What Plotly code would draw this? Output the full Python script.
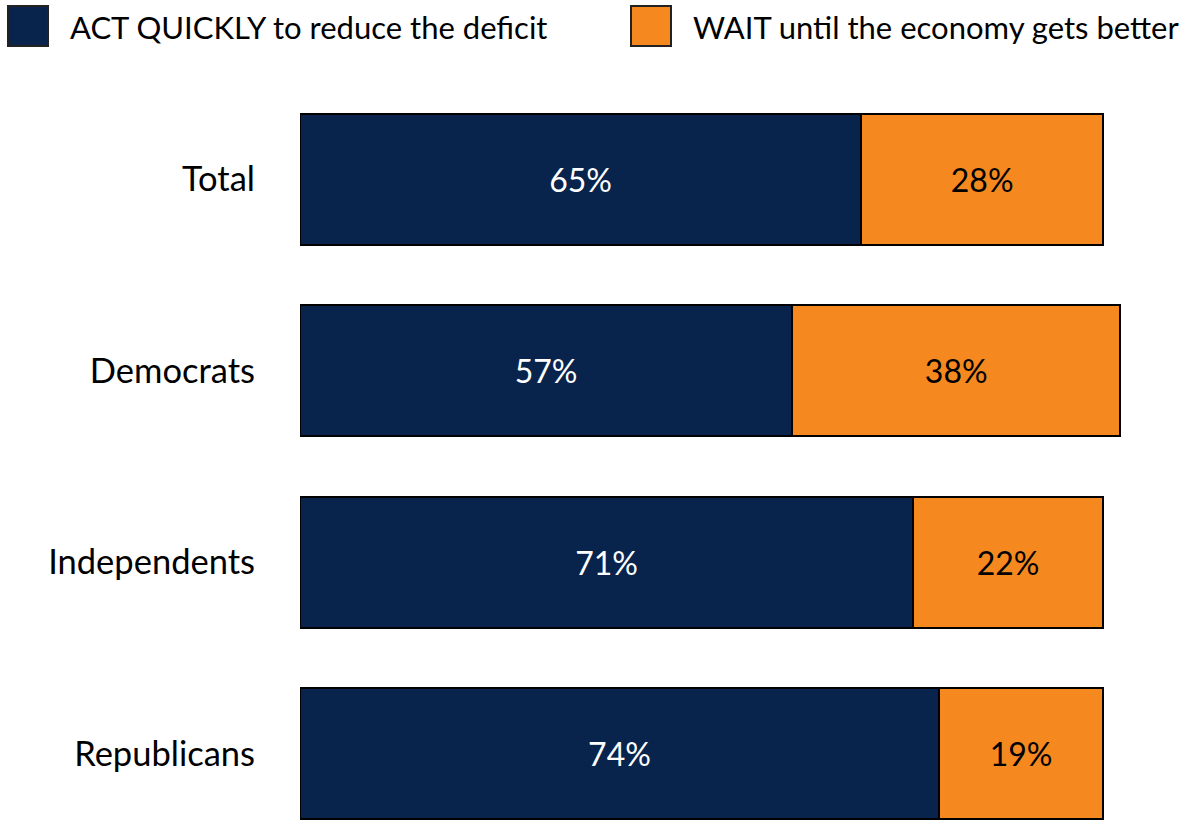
import plotly.graph_objects as go

# Survey groups and response shares (%)
groups = ["Total", "Democrats", "Independents", "Republicans"]
act_quickly = [65, 57, 71, 74]
wait_better = [28, 38, 22, 19]

series_names = ["ACT QUICKLY to reduce the deficit", "WAIT until the economy gets better"]
navy = "#08234C"
orange = "#F5891F"
font_family = "Lato, 'Open Sans', sans-serif"

fig = go.Figure()
fig.add_trace(go.Bar(
    y=groups, x=act_quickly, orientation="h", name=series_names[0],
    marker=dict(color=navy, line=dict(color="black", width=2)),
    text=[f"{v}%" for v in act_quickly], textposition="inside",
    insidetextanchor="middle", textangle=0, constraintext="none",
    textfont=dict(color="white", size=32, family=font_family),
    showlegend=False,
))
fig.add_trace(go.Bar(
    y=groups, x=wait_better, orientation="h", name=series_names[1],
    marker=dict(color=orange, line=dict(color="black", width=2)),
    text=[f"{v}%" for v in wait_better], textposition="inside",
    insidetextanchor="middle", textangle=0, constraintext="none",
    textfont=dict(color="black", size=32, family=font_family),
    showlegend=False,
))

# Legend drawn as swatches + labels across the top
legend_items = [(series_names[0], navy, 8), (series_names[1], orange, 631)]
for label, color, x0 in legend_items:
    fig.add_shape(type="rect", xref="paper", yref="paper",
                  x0=(x0 - 300) / 892, x1=(x0 + 40 - 300) / 892,
                  y0=(742 - (46 - 80)) / 742, y1=(742 - (6 - 80)) / 742,
                  fillcolor=color, line=dict(color="#222", width=2), layer="above")
    fig.add_annotation(xref="paper", yref="paper",
                       x=(x0 + 60 - 300) / 892, y=(742 - (27 - 80)) / 742,
                       text=label, showarrow=False, xanchor="left", yanchor="middle",
                       font=dict(size=31, color="black", family=font_family))

fig.update_layout(
    width=1192, height=822,
    margin=dict(l=300, r=0, t=80, b=0),
    barmode="stack", bargap=0.316,
    plot_bgcolor="white", paper_bgcolor="white",
    font=dict(family=font_family, color="black"),
    xaxis=dict(range=[0, 103.3], visible=False, fixedrange=True),
    yaxis=dict(categoryorder="array", categoryarray=groups,
               range=[3.358, -0.518], showgrid=False, zeroline=False,
               showline=False, ticks="", ticklabelstandoff=44,
               tickfont=dict(size=34.5, color="black", family=font_family)),
)

fig.write_html("out.html")
